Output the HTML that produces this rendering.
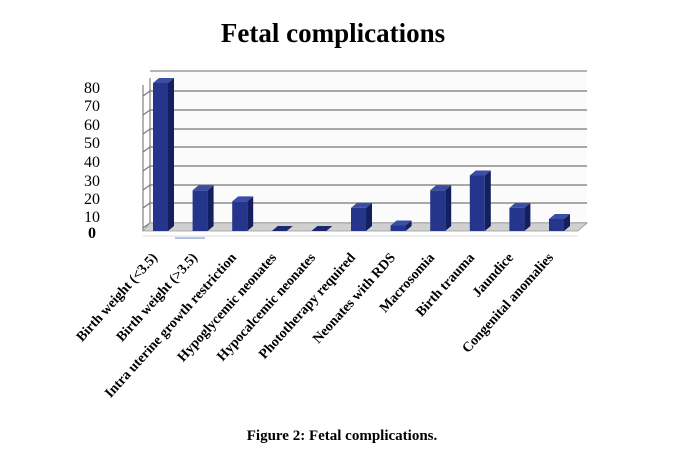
<!DOCTYPE html>
<html><head><meta charset="utf-8"><style>
body{margin:0;background:#fff;}
</style></head><body>
<svg width="680" height="461" xmlns="http://www.w3.org/2000/svg" font-family="Liberation Serif, serif">
<rect width="680" height="461" fill="#fff"/>
<text x="333" y="42" text-anchor="middle" font-size="27" font-weight="bold">Fetal complications</text>
<polygon points="150,71 587,71 587,226 150,226" fill="#fbfbfb"/>
<g stroke="#8a8a8a" stroke-width="1.3">
<line x1="150" y1="71" x2="587" y2="71"/>
<line x1="150" y1="78" x2="150" y2="226"/>
<line x1="143" y1="85" x2="143" y2="231"/>
</g>
<g stroke="#777" stroke-width="1.2">
<line x1="150" y1="91" x2="587" y2="91"/><line x1="143" y1="96" x2="150" y2="91"/>
<line x1="150" y1="110" x2="587" y2="110"/><line x1="143" y1="115" x2="150" y2="110"/>
<line x1="150" y1="129" x2="587" y2="129"/><line x1="143" y1="134" x2="150" y2="129"/>
<line x1="150" y1="147" x2="587" y2="147"/><line x1="143" y1="152" x2="150" y2="147"/>
<line x1="150" y1="166" x2="587" y2="166"/><line x1="143" y1="171" x2="150" y2="166"/>
<line x1="150" y1="185" x2="587" y2="185"/><line x1="143" y1="190" x2="150" y2="185"/>
<line x1="150" y1="203" x2="587" y2="203"/><line x1="143" y1="208" x2="150" y2="203"/>
<line x1="150" y1="223" x2="587" y2="223"/><line x1="143" y1="228" x2="150" y2="223"/>
</g>
<polygon points="143,231 578,231 587,223 150,223" fill="#d0d0d0" stroke="#999" stroke-width="0.8"/>
<line x1="143" y1="236" x2="578" y2="236" stroke="#bbb" stroke-width="0.6"/>
<line x1="175" y1="238" x2="205" y2="238" stroke="#7fa0d8" stroke-width="1.2"/>
<g font-size="16" text-anchor="end">
<text x="100" y="93">80</text><text x="100" y="111">70</text><text x="100" y="130">60</text>
<text x="100" y="148">50</text><text x="100" y="167">40</text><text x="100" y="186">30</text>
<text x="100" y="204">20</text><text x="100" y="222">10</text><text x="96" y="238" font-weight="bold">0</text>
</g>
<g>
<polygon points="168,231 174,226 174,78 168,83" fill="#141f5e"/><polygon points="153,83 159,78 174,78 168,83" fill="#3a4ea6"/><rect x="153" y="83" width="15" height="148" fill="#25358c"/>
<polygon points="207.6,231 213.6,226 213.6,185.3 207.6,190.3" fill="#141f5e"/><polygon points="192.6,190.3 198.6,185.3 213.6,185.3 207.6,190.3" fill="#3a4ea6"/><rect x="192.6" y="190.3" width="15" height="40.7" fill="#25358c"/>
<polygon points="247.2,231 253.2,226 253.2,196.4 247.2,201.4" fill="#141f5e"/><polygon points="232.2,201.4 238.2,196.4 253.2,196.4 247.2,201.4" fill="#3a4ea6"/><rect x="232.2" y="201.4" width="15" height="29.6" fill="#25358c"/>
<polygon points="271.8,231 277.8,226 292.8,226 286.8,231" fill="#1b2870"/>
<polygon points="311.4,231 317.4,226 332.4,226 326.4,231" fill="#1b2870"/>
<polygon points="366,231 372,226 372,202.9 366,207.9" fill="#141f5e"/><polygon points="351,207.9 357,202.9 372,202.9 366,207.9" fill="#3a4ea6"/><rect x="351" y="207.9" width="15" height="23.1" fill="#25358c"/>
<polygon points="405.6,231 411.6,226 411.6,220.5 405.6,225.5" fill="#141f5e"/><polygon points="390.6,225.5 396.6,220.5 411.6,220.5 405.6,225.5" fill="#3a4ea6"/><rect x="390.6" y="225.5" width="15" height="5.5" fill="#25358c"/>
<polygon points="445.2,231 451.2,226 451.2,185.3 445.2,190.3" fill="#141f5e"/><polygon points="430.2,190.3 436.2,185.3 451.2,185.3 445.2,190.3" fill="#3a4ea6"/><rect x="430.2" y="190.3" width="15" height="40.7" fill="#25358c"/>
<polygon points="484.8,231 490.8,226 490.8,170.5 484.8,175.5" fill="#141f5e"/><polygon points="469.8,175.5 475.8,170.5 490.8,170.5 484.8,175.5" fill="#3a4ea6"/><rect x="469.8" y="175.5" width="15" height="55.5" fill="#25358c"/>
<polygon points="524.4,231 530.4,226 530.4,202.9 524.4,207.9" fill="#141f5e"/><polygon points="509.4,207.9 515.4,202.9 530.4,202.9 524.4,207.9" fill="#3a4ea6"/><rect x="509.4" y="207.9" width="15" height="23.1" fill="#25358c"/>
<polygon points="564,231 570,226 570,214 564,219" fill="#141f5e"/><polygon points="549,219 555,214 570,214 564,219" fill="#3a4ea6"/><rect x="549" y="219" width="15" height="12" fill="#25358c"/>
</g>
<g font-size="14" font-weight="bold" text-anchor="end">
<text transform="translate(158,258) rotate(-48)">Birth weight (&lt;3.5)</text>
<text transform="translate(198,258) rotate(-48)">Birth weight (&gt;3.5)</text>
<text transform="translate(237,258) rotate(-48)">Intra uterine growth restriction</text>
<text transform="translate(277,258) rotate(-48)">Hypoglycemic neonates</text>
<text transform="translate(316,258) rotate(-48)">Hypocalcemic neonates</text>
<text transform="translate(356,258) rotate(-48)">Phototherapy required</text>
<text transform="translate(396,258) rotate(-48)">Neonates with RDS</text>
<text transform="translate(435,258) rotate(-48)">Macrosomia</text>
<text transform="translate(475,258) rotate(-48)">Birth trauma</text>
<text transform="translate(514,258) rotate(-48)">Jaundice</text>
<text transform="translate(554,258) rotate(-48)">Congenital anomalies</text>
</g>
<text x="342" y="440" text-anchor="middle" font-size="15" font-weight="bold">Figure 2: Fetal complications.</text>
</svg>
</body></html>
